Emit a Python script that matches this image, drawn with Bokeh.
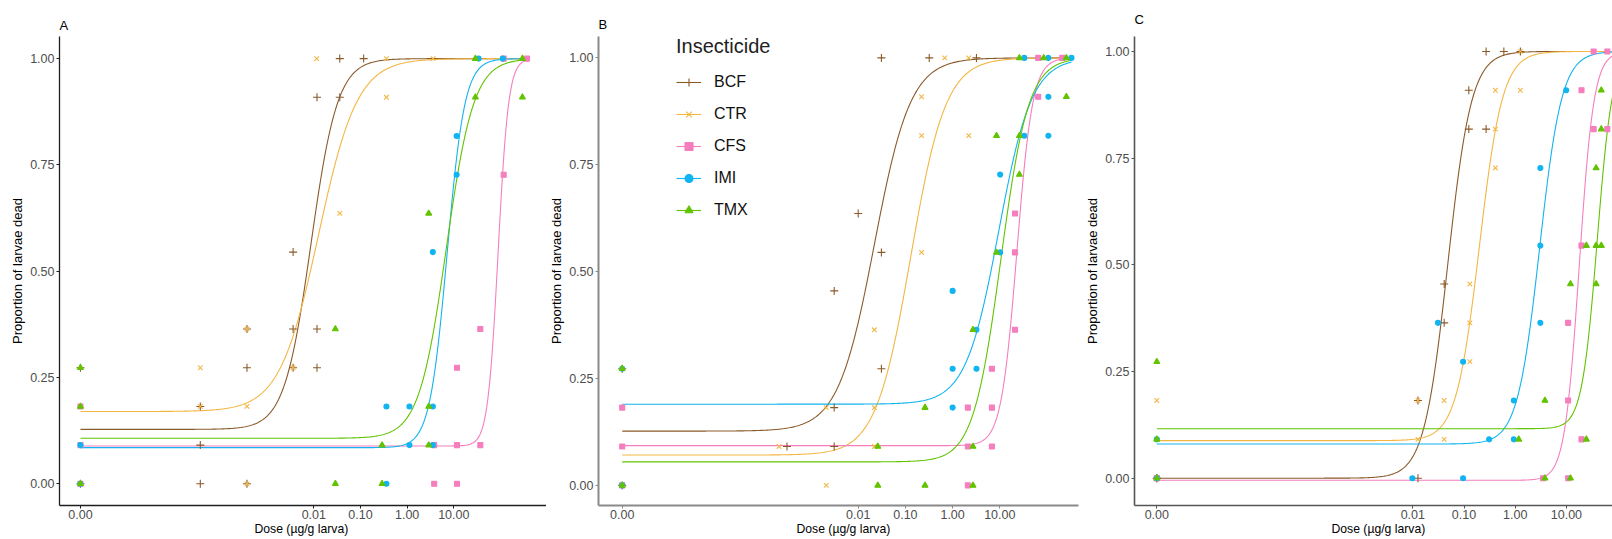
import numpy as np
from bokeh.plotting import figure
from bokeh.layouts import row
from bokeh.models import (Range1d, FixedTicker, CustomJSTickFormatter,
                          PrintfTickFormatter, Legend, LegendItem, Title)
from bokeh.embed import file_html
from bokeh.resources import INLINE

FONT = "Liberation Sans"

# ---------------------------------------------------------------- series
SERIES = ["BCF", "CTR", "CFS", "IMI", "TMX"]
SERIES_COLORS = ["#8B5A2B", "#F3B643", "#F57EBE", "#10B4F0", "#62C300"]
SERIES_MARKERS = ["cross", "x", "square", "circle", "triangle"]

# ---------------------------------------------------------------- axes
X_TICKS = [0, 0.01, 0.1, 1, 10]
X_TICK_LABELS = ["0.00", "0.01", "0.10", "1.00", "10.00"]
Y_TICKS = [0, 0.25, 0.5, 0.75, 1.0]
ZERO_DOSE_POS = 1e-7   # untreated control (dose 0) drawn here on the log axis
X_TITLE = "Dose (\u00b5g/g larva)"
Y_TITLE = "Proportion of larvae dead"

# ---------------------------------------------------------------- panel A data
A_BCF_dose = [0, 0, 3.7e-5, 3.7e-5, 3.7e-5, 3.7e-4, 3.7e-4, 3.7e-4, 0.0036, 0.0036, 0.0036,
              0.0117, 0.0117, 0.0117, 0.036, 0.036, 0.117]
A_BCF_prop = [0.273, 0, 0.182, 0.091, 0, 0.364, 0.273, 0, 0.545, 0.364, 0.273,
              0.909, 0.364, 0.273, 1.0, 0.909, 1.0]
A_CTR_dose = [0, 0, 3.7e-5, 3.7e-5, 3.7e-4, 3.7e-4, 3.7e-4, 0.0036, 0.0115, 0.036, 0.36, 0.36, 3.6]
A_CTR_prop = [0.182, 0, 0.273, 0.182, 0.364, 0.182, 0, 0.273, 1.0, 0.636, 1.0, 0.909, 1.0]
A_CFS_dose = [0, 0, 0, 3.8, 3.8, 11.7, 11.7, 11.7, 37, 37, 117, 117, 370]
A_CFS_prop = [0.182, 0.091, 0, 0.091, 0, 0.273, 0.091, 0, 0.364, 0.091, 1.0, 0.727, 1.0]
A_IMI_dose = [0, 0, 0.36, 0.36, 1.12, 1.12, 3.55, 3.55, 3.55, 11.5, 11.5, 34, 112]
A_IMI_prop = [0.091, 0, 0.182, 0, 0.182, 0.091, 0.545, 0.182, 0.091, 0.818, 0.727, 1.0, 1.0]
A_TMX_dose = [0, 0, 0, 0.029, 0.029, 0.29, 0.29, 2.9, 2.9, 2.9, 29, 29, 295, 295]
A_TMX_prop = [0.273, 0.182, 0, 0.364, 0, 0.091, 0, 0.636, 0.182, 0.091, 1.0, 0.909, 1.0, 0.909]

# fitted log-logistic curves (lower limit, ED50, slope, upper limit)
FIT_A_LOWER = [0.128, 0.170, 0.089, 0.085, 0.107]
FIT_A_ED50 = [0.0087, 0.0126, 89, 7.2, 6.9]
FIT_A_SLOPE = [1.52, 1.04, 3.9, 2.3, 1.48]
FIT_A_UPPER = [1, 1, 1, 1, 1]

# ---------------------------------------------------------------- panel B data
B_BCF_dose = [0, 0, 3.1e-4, 3.1e-3, 3.1e-3, 3.1e-3, 0.01, 0.031, 0.031, 0.031, 0.32, 3.2]
B_BCF_prop = [0.273, 0, 0.091, 0.455, 0.182, 0.091, 0.636, 1.0, 0.545, 0.273, 1.0, 1.0]
B_CTR_dose = [0, 0, 2.1e-4, 2.1e-3, 2.1e-3, 0.022, 0.022, 0.022, 0.22, 0.22, 0.22, 0.68, 2.2, 2.2]
B_CTR_prop = [0.182, 0, 0.091, 0.182, 0, 0.364, 0.182, 0.091, 0.909, 0.818, 0.545, 1.0, 1.0, 0.818]
B_CFS_dose = [0, 0, 0, 2.1, 2.1, 2.1, 6.8, 6.8, 6.8, 21, 21, 21, 65, 65, 210]
B_CFS_prop = [0.182, 0.091, 0, 0.182, 0.091, 0, 0.273, 0.182, 0.091, 0.636, 0.545, 0.364, 1.0, 0.909, 1.0]
B_IMI_dose = [0, 0, 1.0, 1.0, 1.0, 3.2, 3.2, 10.2, 10.2, 33, 33, 107, 107, 107, 330]
B_IMI_prop = [0.273, 0, 0.455, 0.273, 0.182, 0.364, 0.273, 0.727, 0.545, 1.0, 0.818,
              1.0, 0.909, 0.818, 1.0]
B_TMX_dose = [0, 0, 0.026, 0.026, 0.26, 0.26, 2.7, 2.7, 2.7, 8.5, 8.5, 26, 26, 26, 85, 257, 257]
B_TMX_prop = [0.273, 0, 0.091, 0, 0.182, 0, 0.364, 0.091, 0, 0.818, 0.545, 1.0, 0.818, 0.727,
              1.0, 1.0, 0.909]

FIT_B_LOWER = [0.127, 0.071, 0.093, 0.19, 0.055]
FIT_B_ED50 = [0.022, 0.13, 23, 9.5, 10.5]
FIT_B_SLOPE = [1.13, 1.17, 2.6, 1.24, 1.48]
FIT_B_UPPER = [1, 1, 1, 1, 1]

# ---------------------------------------------------------------- panel C data
C_BCF_dose = [0, 0, 0.0126, 0.0126, 0.041, 0.041, 0.124, 0.124, 0.27, 0.27, 0.60, 1.26]
C_BCF_prop = [0, 0, 0.182, 0, 0.455, 0.364, 0.909, 0.818, 1.0, 0.818, 1.0, 1.0]
C_CTR_dose = [0, 0, 0.0126, 0.0126, 0.041, 0.041, 0.13, 0.13, 0.13, 0.41, 0.41, 0.41, 1.26, 1.26]
C_CTR_prop = [0.182, 0, 0.182, 0.091, 0.182, 0.091, 0.455, 0.364, 0.273, 0.909, 0.818, 0.727, 1.0, 0.909]
C_CFS_dose = [0, 0, 3.5, 10.8, 10.8, 10.8, 19.7, 19.7, 19.7, 34, 34, 63, 63]
C_CFS_prop = [0, 0, 0, 0.364, 0.182, 0, 0.909, 0.545, 0.091, 1.0, 0.818, 1.0, 0.818]
C_IMI_dose = [0, 0, 0.0098, 0.031, 0.096, 0.096, 0.31, 0.94, 0.94, 3.1, 3.1, 3.1, 9.9]
C_IMI_prop = [0.091, 0, 0, 0.364, 0.273, 0, 0.091, 0.182, 0.091, 0.727, 0.545, 0.364, 0.909]
C_TMX_dose = [0, 0, 0, 1.17, 3.8, 3.8, 12, 12, 24.5, 24.5, 38, 38, 38, 48, 48, 48]
C_TMX_prop = [0.273, 0.091, 0, 0.091, 0.182, 0, 0.455, 0, 0.545, 0.091, 0.727, 0.545, 0.455,
              0.909, 0.818, 0.545]

FIT_C_LOWER = [0.0, 0.088, -0.005, 0.08, 0.116]
FIT_C_ED50 = [0.048, 0.20, 17.8, 3.0, 40]
FIT_C_SLOPE = [1.87, 1.91, 3.04, 2.0, 2.9]
FIT_C_UPPER = [1, 1, 1, 1, 1]

PANELS = {
    "A": dict(data=[(A_BCF_dose, A_BCF_prop), (A_CTR_dose, A_CTR_prop), (A_CFS_dose, A_CFS_prop),
                    (A_IMI_dose, A_IMI_prop), (A_TMX_dose, A_TMX_prop)],
              fit=(FIT_A_LOWER, FIT_A_UPPER, FIT_A_ED50, FIT_A_SLOPE), curve_end=370,
              width=546, b_left=59, b_right=0, title_standoff=8, xtitle_offset=195,
              xr=(10 ** -7.449, 10 ** 2.986), yr=(-0.051, 1.052),
              axis_color="#1f1f1f", axis_width=1.3),
    "B": dict(data=[(B_BCF_dose, B_BCF_prop), (B_CTR_dose, B_CTR_prop), (B_CFS_dose, B_CFS_prop),
                    (B_IMI_dose, B_IMI_prop), (B_TMX_dose, B_TMX_prop)],
              fit=(FIT_B_LOWER, FIT_B_UPPER, FIT_B_ED50, FIT_B_SLOPE), curve_end=330,
              width=534, b_left=52, b_right=2, title_standoff=9, xtitle_offset=198,
              xr=(10 ** -7.502, 10 ** 2.667), yr=(-0.047, 1.050),
              axis_color="#8a8a8a", axis_width=2),
    "C": dict(data=[(C_BCF_dose, C_BCF_prop), (C_CTR_dose, C_CTR_prop), (C_CFS_dose, C_CFS_prop),
                    (C_IMI_dose, C_IMI_prop), (C_TMX_dose, C_TMX_prop)],
              fit=(FIT_C_LOWER, FIT_C_UPPER, FIT_C_ED50, FIT_C_SLOPE), curve_end=100,
              width=532, b_left=54, b_right=0, title_standoff=19, xtitle_offset=197,
              xr=(10 ** -7.436, 10 ** 1.900), yr=(-0.064, 1.035),
              axis_color="#555555", axis_width=1.6),
}

MARKER_SIZE = {"cross": 8, "x": 6.5, "square": 5, "circle": 5, "triangle": 6}

tick_pos = [ZERO_DOSE_POS if t == 0 else t for t in X_TICKS]
x_formatter_code = """
let best = 0, bd = Infinity;
for (let i = 0; i < pos.length; i++) {
  const d = Math.abs(Math.log10(tick) - Math.log10(pos[i]));
  if (d < bd) { bd = d; best = i; }
}
return lab[best];
"""


def to_plot_x(doses):
    return [ZERO_DOSE_POS if d == 0 else d for d in doses]


def make_panel(letter, cfg):
    p = figure(width=cfg["width"], height=539, x_axis_type="log",
               x_range=Range1d(*cfg["xr"]), y_range=Range1d(*cfg["yr"]),
               output_backend="svg", toolbar_location=None, title=letter,
               min_border_left=cfg["b_left"], min_border_right=cfg["b_right"],
               min_border_top=36, min_border_bottom=34)
    p.outline_line_color = None
    p.xgrid.visible = False
    p.ygrid.visible = False
    p.background_fill_color = "white"
    p.border_fill_color = "white"

    p.title.text_font = FONT
    p.title.text_font_size = "13px"
    p.title.text_font_style = "normal"
    p.title.text_color = "black"
    p.title.standoff = cfg["title_standoff"]
    p.title.offset = 0

    for ax in (p.xaxis[0], p.yaxis[0]):
        ax.axis_line_color = cfg["axis_color"]
        ax.axis_line_width = cfg["axis_width"]
        ax.major_tick_line_color = cfg["axis_color"]
        ax.major_tick_in = 0
        ax.major_tick_out = 3
        ax.minor_tick_in = 0
        ax.minor_tick_out = 0
        ax.major_label_text_font = FONT
        ax.major_label_text_font_size = "12.5px"
        ax.major_label_text_color = "#4d4d4d"
        ax.axis_label_text_font = FONT
        ax.axis_label_text_font_size = "13px"
        ax.axis_label_text_font_style = "normal"
        ax.axis_label_text_color = "black"

    p.xaxis.ticker = FixedTicker(ticks=tick_pos, minor_ticks=[])
    p.xaxis.formatter = CustomJSTickFormatter(args=dict(pos=tick_pos, lab=X_TICK_LABELS),
                                              code=x_formatter_code)
    p.xaxis.major_label_standoff = 1

    # x-axis title: centred on the full (uncropped) ggplot panel, so placed by offset
    p.add_layout(Title(text=X_TITLE, align="left", offset=cfg["xtitle_offset"],
                       text_font=FONT, text_font_size="12.2px", text_font_style="normal",
                       text_color="black", standoff=0, vertical_align="top"), "below")

    p.yaxis.ticker = FixedTicker(ticks=Y_TICKS, minor_ticks=[])
    p.yaxis.formatter = PrintfTickFormatter(format="%.2f")
    p.yaxis.axis_label = Y_TITLE
    p.yaxis.major_label_standoff = 2
    p.yaxis.axis_label_standoff = 2

    lowers, uppers, ed50s, slopes = cfg["fit"]
    grid = np.logspace(np.log10(ZERO_DOSE_POS), np.log10(cfg["curve_end"]), 400)
    lines = []
    for i, name in enumerate(SERIES):
        c, d, e, b = lowers[i], uppers[i], ed50s[i], slopes[i]
        curve = c + (d - c) / (1.0 + (e / grid) ** b)
        lines.append(p.line(grid, curve, line_color=SERIES_COLORS[i], line_width=1.1))
    pts = []
    for i, name in enumerate(SERIES):
        dose, prop = cfg["data"][i]
        mk = SERIES_MARKERS[i]
        pts.append(p.scatter(to_plot_x(dose), prop, marker=mk, size=MARKER_SIZE[mk],
                             line_color=SERIES_COLORS[i], fill_color=SERIES_COLORS[i],
                             line_width=1.1))
    return p, lines, pts


pA, _, _ = make_panel("A", PANELS["A"])
pB, linesB, ptsB = make_panel("B", PANELS["B"])
pC, _, _ = make_panel("C", PANELS["C"])

legend = Legend(
    items=[LegendItem(label=name, renderers=[linesB[i], ptsB[i]]) for i, name in enumerate(SERIES)],
    location=(78, 285), title="Insecticide",
    title_text_font=FONT, title_text_font_size="20px", title_text_color="#222222",
    title_text_font_style="normal", title_standoff=14,
    label_text_font=FONT, label_text_font_size="16px", label_text_color="#111111",
    glyph_width=25, glyph_height=20, label_height=20, label_standoff=13, spacing=12,
    padding=0, margin=0, border_line_color=None, background_fill_alpha=0)
pB.add_layout(legend)

layout = row(pA, pB, pC)
open("out.html", "w").write(file_html(layout, INLINE))
